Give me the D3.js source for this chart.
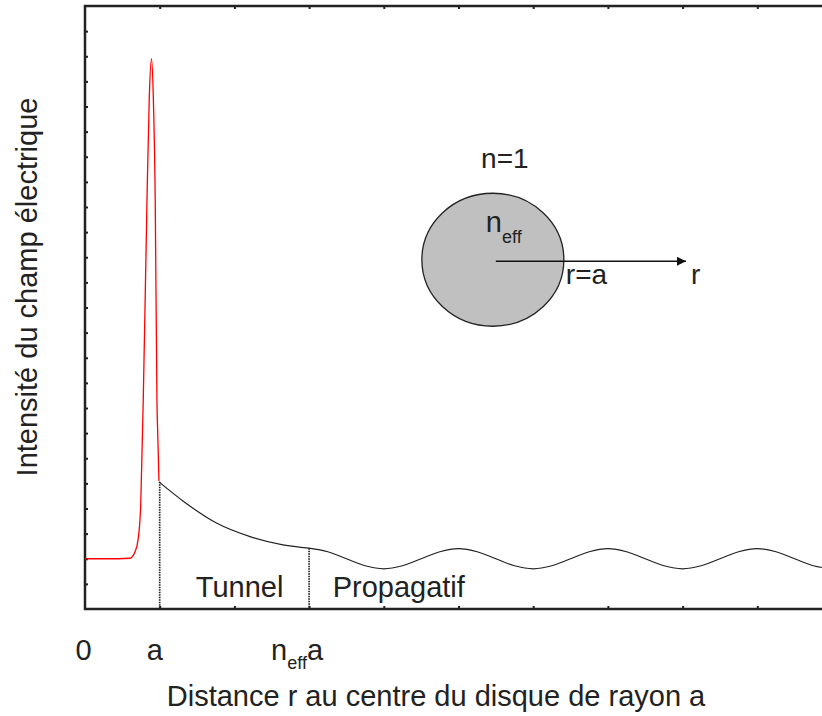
<!DOCTYPE html>
<html>
<head>
<meta charset="utf-8">
<script src="https://cdn.jsdelivr.net/npm/d3@7"></script>
<style>
  body { margin: 0; background: #fff; }
  text { font-family: "Liberation Sans", Arial, sans-serif; fill: #222; }
</style>
</head>
<body>
<script>
// Data (x in units of a, y in arbitrary intensity units)
const coreX = [0, 0.3, 0.6, 0.67, 0.71, 0.745, 0.767, 0.78, 0.83, 0.86, 0.89, 0.915, 0.94, 0.963, 0.976, 0.99];
const coreY = [2.0, 2.0, 2.02, 2.28, 2.75, 4.08, 6.73, 8.33, 16.3, 20.3, 21.9, 20.3, 16.3, 8.33, 6.73, 5.1];

const tunnelX = [0.99, 1.32, 1.76, 2.21, 2.65, 3.0];
const tunnelY = [5.06, 4.28, 3.42, 2.88, 2.55, 2.42];

const propX = [3.0, 3.25, 3.5, 3.75, 4.0, 4.25, 4.5, 4.75, 5.0, 5.25, 5.5, 5.75, 6.0, 6.25, 6.5, 6.75, 7.0, 7.25, 7.5, 7.75, 8.0, 8.25, 8.5, 8.75, 9.0, 9.25, 9.5, 9.75, 10.0];
const propY = [2.42, 2.28, 2.0, 1.72, 1.6, 1.72, 2.0, 2.28, 2.4, 2.28, 2.0, 1.72, 1.6, 1.72, 2.0, 2.28, 2.4, 2.28, 2.0, 1.72, 1.6, 1.72, 2.0, 2.28, 2.4, 2.28, 2.0, 1.72, 1.6];

const xTickLabels = [
  { v: 0, main: '0', sub: '', after: '' },
  { v: 1, main: 'a', sub: '', after: '' },
  { v: 3, main: 'n', sub: 'eff', after: 'a' }
];
const regionLabels = [
  { v: 2.07, text: 'Tunnel' },
  { v: 4.2, text: 'Propagatif' }
];

// SVG setup
const width = 822;
const height = 716;
const margin = { top: 6, left: 85, bottom: 107 };
const fontSize = 29;

const svg = d3.select('body')
.append('svg')
.attr('width', width)
.attr('height', height);

const xScale = d3.scaleLinear()
.domain([0, 10])
.range([margin.left, margin.left + 747]);

const yScale = d3.scaleLinear()
.domain([0, 24])
.range([height - margin.bottom, margin.top]);

// Ticks (inside the frame)
svg.append('g')
.attr('transform', `translate(${margin.left},0)`)
.call(d3.axisLeft(yScale).tickValues(d3.range(1, 24)).tickSize(-3).tickFormat(''))
.call(g => g.select('.domain').remove())
.selectAll('line').attr('stroke', '#222').attr('stroke-width', 2);

svg.append('g')
.attr('transform', `translate(0,${yScale(0)})`)
.call(d3.axisBottom(xScale).tickValues(d3.range(1, 11)).tickSize(-3).tickFormat(''))
.call(g => g.select('.domain').remove())
.selectAll('line').attr('stroke', '#222').attr('stroke-width', 2);

svg.append('g')
.attr('transform', `translate(0,${yScale(24)})`)
.call(d3.axisTop(xScale).tickValues(d3.range(1, 11)).tickSize(-3).tickFormat(''))
.call(g => g.select('.domain').remove())
.selectAll('line').attr('stroke', '#222').attr('stroke-width', 2);

// Frame
svg.append('path')
.attr('d', `M${width},${yScale(24)}H${xScale(0)}V${yScale(0)}H${width}`)
.attr('fill', 'none')
.attr('stroke', '#222')
.attr('stroke-width', 2.5);

// Dotted separators
[[1, tunnelY[0]], [3, propY[0]]].forEach(d => {
  svg.append('line')
  .attr('x1', xScale(d[0])).attr('x2', xScale(d[0]))
  .attr('y1', yScale(d[1])).attr('y2', yScale(0))
  .attr('stroke', '#222')
  .attr('stroke-width', 1.7)
  .attr('stroke-dasharray', '1.5,1');
});

// Curves
const line = d3.line()
.x(d => xScale(d[0]))
.y(d => yScale(d[1]))
.curve(d3.curveMonotoneX);

svg.append('path')
.datum(d3.zip(coreX, coreY))
.attr('d', line)
.attr('fill', 'none')
.attr('stroke', '#ff0000')
.attr('stroke-width', 1.3);

svg.append('path')
.datum(d3.zip(tunnelX, tunnelY))
.attr('d', line)
.attr('fill', 'none')
.attr('stroke', '#222')
.attr('stroke-width', 1.2);

svg.append('path')
.datum(d3.zip(propX, propY))
.attr('d', line.curve(d3.curveCatmullRom))
.attr('fill', 'none')
.attr('stroke', '#222')
.attr('stroke-width', 1.2);

// Region labels
svg.selectAll('text.region')
.data(regionLabels)
.enter()
.append('text')
.attr('class', 'region')
.attr('x', d => xScale(d.v))
.attr('y', 597)
.attr('text-anchor', 'middle')
.attr('font-size', fontSize + 'px')
.text(d => d.text);

// X tick labels
const xl = svg.selectAll('text.xlab')
.data(xTickLabels)
.enter()
.append('text')
.attr('class', 'xlab')
.attr('x', d => xScale(d.v) - (d.sub ? 12 : d.v ? 5 : 1.5))
.attr('y', 660)
.attr('text-anchor', 'middle')
.attr('font-size', fontSize + 'px');
xl.append('tspan').text(d => d.main);
xl.filter(d => d.sub).append('tspan')
.attr('font-size', '18px').attr('dy', 9).text(d => d.sub);
xl.filter(d => d.after).append('tspan')
.attr('dy', -9).text(d => d.after);

// Axis titles
svg.append('text')
.attr('x', 436)
.attr('y', 706)
.attr('text-anchor', 'middle')
.attr('font-size', fontSize + 'px')
.text('Distance r au centre du disque de rayon a');

svg.append('text')
.attr('transform', `translate(37,287) rotate(-90)`)
.attr('text-anchor', 'middle')
.attr('font-size', fontSize + 'px')
.text('Intensité du champ électrique');

// Inset diagram
const cx = xScale(5.46);
const cy = yScale(13.9);

svg.append('defs').append('marker')
.attr('id', 'arrow')
.attr('viewBox', '0 0 10 10')
.attr('refX', 10).attr('refY', 5)
.attr('markerWidth', 17).attr('markerHeight', 9)
.attr('markerUnits', 'userSpaceOnUse')
.attr('orient', 'auto')
.append('path')
.attr('d', 'M0,0L10,5L0,10Z')
.attr('fill', '#111');

svg.append('ellipse')
.attr('cx', cx).attr('cy', cy)
.attr('rx', 71).attr('ry', 66.5)
.attr('fill', '#c0c0c0')
.attr('stroke', '#222')
.attr('stroke-width', 1.3);

svg.append('line')
.attr('x1', cx + 3).attr('x2', 686)
.attr('y1', cy + 1.5).attr('y2', cy + 1.5)
.attr('stroke', '#111')
.attr('stroke-width', 1.5)
.attr('marker-end', 'url(#arrow)');

svg.append('text')
.attr('x', cx + 12).attr('y', 168)
.attr('text-anchor', 'middle')
.attr('font-size', '28px')
.text('n=1');

const ne = svg.append('text')
.attr('x', cx - 7).attr('y', 232)
.attr('font-size', fontSize + 'px');
ne.append('tspan').text('n');
ne.append('tspan').attr('font-size', '18px').attr('dy', 11).text('eff');

svg.append('text')
.attr('x', cx + 73).attr('y', 284)
.attr('font-size', '28px')
.text('r=a');

svg.append('text')
.attr('x', 691).attr('y', 284)
.attr('font-size', '28px')
.text('r');
</script>
</body>
</html>
